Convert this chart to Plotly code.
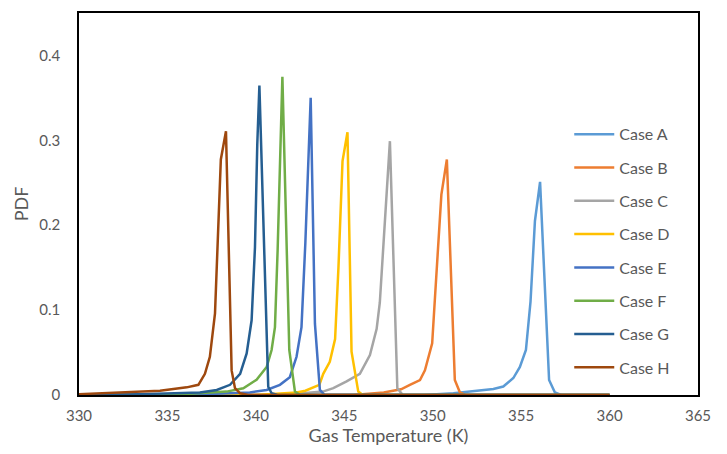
import plotly.graph_objects as go

names = ["Case A", "Case B", "Case C", "Case D", "Case E", "Case F", "Case G", "Case H"]
colors = ["#5B9BD5", "#ED7D31", "#A5A5A5", "#FFC000", "#4472C4", "#70AD47", "#255E91", "#9E480E"]

temp_a = [330, 349.5, 351.17, 352.64, 353.43, 353.99, 354.56, 354.93, 355.27, 355.53, 355.78, 356.07, 356.58, 356.91, 357.26, 360]
pdf_a = [0, 0, 0.002, 0.005, 0.007, 0.010, 0.020, 0.033, 0.053, 0.11, 0.205, 0.251, 0.0176, 0.003, 0, 0]

temp_b = [330, 345.5, 347.23, 348.21, 348.71, 349.28, 349.56, 349.97, 350.14, 350.49, 350.80, 351.25, 351.54, 351.85, 360]
pdf_b = [0, 0, 0.003, 0.0067, 0.012, 0.0176, 0.029, 0.061, 0.119, 0.236, 0.2775, 0.0176, 0.003, 0, 0]

temp_c = [330, 341.5, 343.79, 344.38, 345.13, 345.88, 346.45, 346.83, 347.01, 347.28, 347.58, 348.00, 348.31, 360]
pdf_c = [0, 0, 0.004, 0.008, 0.016, 0.025, 0.047, 0.078, 0.109, 0.2, 0.299, 0.008, 0, 0]

temp_d = [330, 340, 342.31, 342.80, 343.59, 343.81, 344.18, 344.48, 344.67, 344.90, 345.18, 345.41, 345.79, 346.05, 360]
pdf_d = [0, 0, 0.003, 0.005, 0.012, 0.025, 0.039, 0.066, 0.15, 0.2755, 0.3095, 0.051, 0.004, 0, 0]

temp_e = [330, 336, 339.66, 340.61, 341.36, 341.92, 342.30, 342.58, 342.80, 343.10, 343.34, 343.62, 343.89, 360]
pdf_e = [0, 0, 0.003, 0.006, 0.012, 0.021, 0.045, 0.08, 0.18, 0.35, 0.084, 0.006, 0, 0]

temp_f = [330, 335, 338.35, 339.29, 340.04, 340.61, 340.89, 341.08, 341.23, 341.50, 341.89, 342.21, 342.51, 360]
pdf_f = [0, 0, 0.004, 0.008, 0.018, 0.033, 0.053, 0.08, 0.17, 0.375, 0.053, 0.004, 0, 0]

temp_g = [330, 333.46, 336.84, 337.79, 338.54, 339.11, 339.48, 339.76, 339.95, 340.08, 340.20, 340.70, 340.89, 341.23, 360]
pdf_g = [0, 0.001, 0.003, 0.006, 0.012, 0.025, 0.049, 0.088, 0.174, 0.295, 0.3646, 0.0097, 0.002, 0, 0]

temp_h = [330, 332.69, 334.58, 336.09, 336.75, 337.12, 337.40, 337.69, 337.84, 338.02, 338.31, 338.63, 338.82, 339.11, 339.56, 360]
pdf_h = [0.001, 0.003, 0.005, 0.009, 0.012, 0.025, 0.045, 0.096, 0.17, 0.2775, 0.3107, 0.029, 0.008, 0.002, 0, 0]

x_ticks = [330, 335, 340, 345, 350, 355, 360, 365]
y_ticks = [0, 0.1, 0.2, 0.3, 0.4]
y_tick_labels = ["0", "0.1", "0.2", "0.3", "0.4"]

temps = [temp_a, temp_b, temp_c, temp_d, temp_e, temp_f, temp_g, temp_h]
pdfs = [pdf_a, pdf_b, pdf_c, pdf_d, pdf_e, pdf_f, pdf_g, pdf_h]

font_family = "Lato, 'Open Sans', sans-serif"

fig = go.Figure()
for name, color, t, p in zip(names, colors, temps, pdfs):
    fig.add_trace(go.Scatter(
        x=t, y=p, mode="lines", name=name, legendgroup=name,
        line=dict(color=color, width=2.5),
    ))

fig.update_layout(
    width=727, height=454,
    margin=dict(l=79, r=29, t=11, b=59),
    paper_bgcolor="white", plot_bgcolor="white",
    font=dict(family=font_family, size=15, color="#595959"),
    showlegend=True,
    legend=dict(
        x=0.792, y=0.727, xanchor="left", yanchor="top",
        bgcolor="rgba(0,0,0,0)", tracegroupgap=9.5,
        font=dict(size=16, color="#595959"),
        itemwidth=40,
    ),
    xaxis=dict(
        range=[330, 365], tickvals=x_ticks, ticktext=[str(v) for v in x_ticks],
        showgrid=False, zeroline=False, showline=True, linecolor="black", linewidth=1.5,
        mirror=True, ticks="", ticklabelstandoff=6,
        tickfont=dict(size=15, color="#595959"),
        title=dict(text="Gas Temperature (K)", font=dict(size=18, color="#595959"), standoff=4),
    ),
    yaxis=dict(
        range=[0, 0.45], tickvals=y_ticks, ticktext=y_tick_labels,
        showgrid=False, zeroline=False, showline=True, linecolor="black", linewidth=1.5,
        mirror=True, ticks="", ticklabelstandoff=14,
        tickfont=dict(size=15, color="#595959"),
        title=dict(text="PDF", font=dict(size=18, color="#595959"), standoff=6),
    ),
)

fig.write_html("out.html")
